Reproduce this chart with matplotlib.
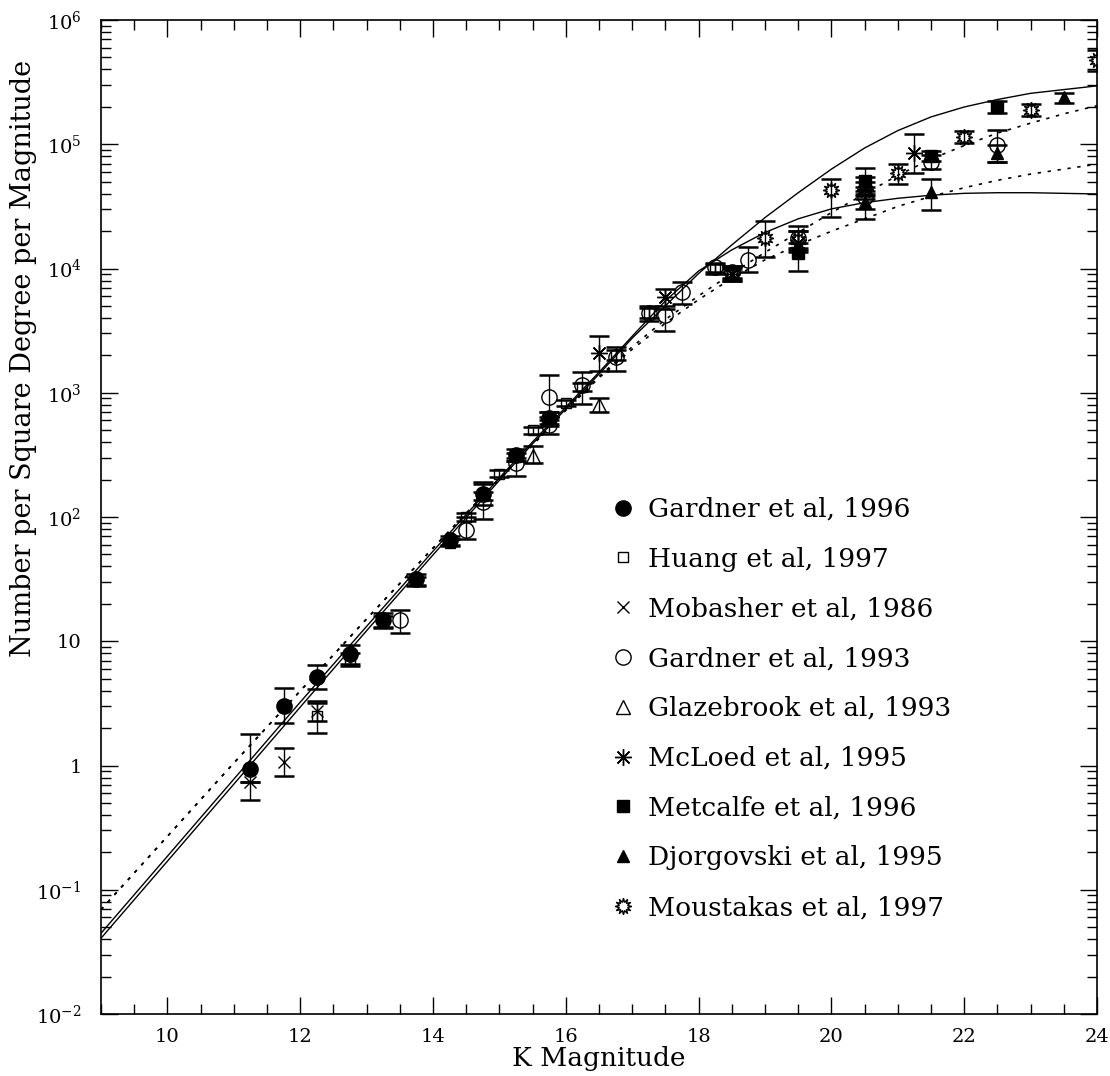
import numpy as np
import matplotlib
matplotlib.use("Agg")
import matplotlib.pyplot as plt
from matplotlib.lines import Line2D
from matplotlib.ticker import FixedLocator, LogLocator, MultipleLocator, NullFormatter

plt.rcParams['font.family'] = ['DejaVu Serif']
plt.rcParams['mathtext.fontset'] = 'dejavuserif'

# model curves (log10 N per deg^2 per mag), read every half magnitude
k_model = [9, 10, 11, 12, 13, 14, 15, 15.5, 16, 16.5, 17, 17.5, 18, 18.5,
           19, 19.5, 20, 20.5, 21, 21.5, 22, 22.5, 23, 23.5, 24]
logn_solid_a = [-1.39, -0.77, -0.15, 0.47, 1.085, 1.695, 2.295, 2.59, 2.87, 3.15,
                3.44, 3.70, 3.96, 4.19, 4.41, 4.61, 4.80, 4.97, 5.11, 5.22,
                5.30, 5.36, 5.41, 5.44, 5.47]
logn_solid_b = [-1.35, -0.73, -0.11, 0.51, 1.12, 1.725, 2.315, 2.605, 2.885, 3.165,
                3.455, 3.74, 3.98, 4.15, 4.29, 4.40, 4.48, 4.53, 4.565, 4.59,
                4.605, 4.61, 4.61, 4.605, 4.60]
logn_dot_a = [-1.16, -0.57, 0.02, 0.60, 1.18, 1.75, 2.31, 2.58, 2.86, 3.13,
              3.37, 3.59, 3.78, 3.96, 4.13, 4.29, 4.45, 4.60, 4.75, 4.88,
              4.99, 5.09, 5.17, 5.245, 5.31]
logn_dot_b = [-1.16, -0.57, 0.02, 0.60, 1.18, 1.75, 2.31, 2.58, 2.86, 3.12,
              3.35, 3.56, 3.75, 3.92, 4.07, 4.19, 4.30, 4.40, 4.50, 4.58,
              4.65, 4.71, 4.76, 4.80, 4.84]

# Gardner et al 1996
k_gar96 = [11.25, 11.75, 12.25, 12.75, 13.25, 13.75, 14.25, 14.75, 15.25, 15.75]
n_gar96 = [0.94, 3.0, 5.15, 7.9, 14.8, 31.8, 65, 153, 316, 630]
hi_gar96 = [1.8, 4.2, 6.5, 9.3, 17, 35, 70, 185, 350, 700]
lo_gar96 = [0.53, 2.2, 4.1, 6.6, 12.8, 28.5, 60, 125, 280, 560]

# Huang et al 1997
k_huang = [12.25, 12.75, 13.25, 13.75, 14.25, 14.5, 14.75, 15.0, 15.25, 15.5,
           15.75, 16.0, 16.25, 16.75, 17.25, 18.25, 18.5]
n_huang = [2.5, 7.1, 14.5, 30.5, 62, 100, 148, 222, 305, 500,
           590, 830, 1120, 2000, 4400, 1.0e4, 9.3e3]
hi_huang = [3.2, 8.0, 16, 33, 66, 108, 160, 238, 330, 535,
            640, 880, 1200, 2200, 4800, 1.08e4, 1.02e4]
lo_huang = [1.83, 6.3, 13, 28, 58, 93, 137, 208, 282, 468,
            545, 780, 1040, 1820, 4000, 9.3e3, 8.4e3]

# Mobasher et al 1986
k_mob = [11.25, 11.75, 12.25]
n_mob = [0.74, 1.07, 2.75]
hi_mob = [0.74, 1.38, 3.3]
lo_mob = [0.74, 0.82, 2.3]

# Gardner et al 1993
k_gar93 = [13.5, 14.5, 14.75, 15.25, 15.75, 15.75, 16.25, 16.75, 17.25, 17.5,
           17.75, 18.25, 18.5, 18.75, 19.5, 20.5, 21.5, 22.5]
n_gar93 = [14.8, 78, 132, 270, 550, 925, 1150, 1950, 4400, 4200,
           6450, 1.02e4, 9.3e3, 1.17e4, 1.76e4, 3.76e4, 7.2e4, 9.8e4]
hi_gar93 = [18, 100, 190, 300, 600, 1400, 1460, 2350, 5000, 4700,
            7800, 1.1e4, 1.05e4, 1.5e4, 2.2e4, 4.5e4, 8.2e4, 1.3e5]
lo_gar93 = [11.6, 67, 96, 214, 470, 700, 810, 1500, 3800, 3150,
            5200, 9.0e3, 8.2e3, 9.4e3, 1.4e4, 3.0e4, 6.3e4, 7.2e4]

# Glazebrook et al 1993
k_glaz = [15.5, 16.5]
n_glaz = [310, 800]
hi_glaz = [370, 900]
lo_glaz = [270, 700]

# McLeod et al 1995
k_mcl = [16.5, 17.5, 18.5, 19.5, 20.5, 21.25]
n_mcl = [2100, 5900, 9000, 1.6e4, 4.4e4, 8.5e4]
hi_mcl = [2870, 6800, 1.05e4, 2.0e4, 5.5e4, 1.2e5]
lo_mcl = [1510, 5000, 8000, 1.35e4, 3.6e4, 5.9e4]

# Metcalfe et al 1996
k_met = [19.5, 20.5, 21.5, 22.5]
n_met = [1.33e4, 5.1e4, 8.1e4, 2.0e5]
hi_met = [1.6e4, 6.4e4, 8.8e4, 2.25e5]
lo_met = [9.5e3, 4.2e4, 7.4e4, 1.8e5]

# Djorgovski et al 1995
k_djo = [20.5, 21.5, 22.5, 23.5]
n_djo = [3.4e4, 4.1e4, 8.5e4, 2.4e5]
hi_djo = [4.0e4, 5.3e4, 9.8e4, 2.6e5]
lo_djo = [2.5e4, 2.97e4, 7.2e4, 2.15e5]

# Moustakas et al 1997
k_mou = [18.5, 19.0, 19.5, 20.0, 20.5, 21.0, 22.0, 23.0, 24.0]
n_mou = [9.0e3, 1.76e4, 1.7e4, 4.3e4, 4.3e4, 5.9e4, 1.14e5, 1.9e5, 4.8e5]
hi_mou = [1.0e4, 2.4e4, 2.0e4, 5.3e4, 5.0e4, 7.0e4, 1.28e5, 2.1e5, 5.7e5]
lo_mou = [8.0e3, 1.24e4, 1.45e4, 2.6e4, 3.8e4, 4.8e4, 1.02e5, 1.7e5, 3.9e5]

ytick_vals = [1e-2, 1e-1, 1, 10, 1e2, 1e3, 1e4, 1e5, 1e6]
ytick_labels = [r'$10^{-2}$', r'$10^{-1}$', '1', '10', r'$10^{2}$', r'$10^{3}$',
                r'$10^{4}$', r'$10^{5}$', r'$10^{6}$']

burst = (12, 1, 0)
star = (8, 2, 0)
datasets = [
    (k_gar96, n_gar96, hi_gar96, lo_gar96, 'o', 'k', 11, 'Gardner et al, 1996'),
    (k_huang, n_huang, hi_huang, lo_huang, 's', 'none', 7, 'Huang et al, 1997'),
    (k_mob, n_mob, hi_mob, lo_mob, 'x', 'none', 9, 'Mobasher et al, 1986'),
    (k_gar93, n_gar93, hi_gar93, lo_gar93, 'o', 'none', 11, 'Gardner et al, 1993'),
    (k_glaz, n_glaz, hi_glaz, lo_glaz, '^', 'none', 10, 'Glazebrook et al, 1993'),
    (k_mcl, n_mcl, hi_mcl, lo_mcl, star, 'none', 12, 'McLoed et al, 1995'),
    (k_met, n_met, hi_met, lo_met, 's', 'k', 8, 'Metcalfe et al, 1996'),
    (k_djo, n_djo, hi_djo, lo_djo, '^', 'k', 9, 'Djorgovski et al, 1995'),
    (k_mou, n_mou, hi_mou, lo_mou, burst, 'none', 12, 'Moustakas et al, 1997'),
]

fig = plt.figure(figsize=(11.1, 10.76), dpi=100)
ax = fig.add_axes([0.091, 0.0576, 0.8973, 0.9238])

ax.plot(k_model, 10 ** np.array(logn_solid_a), color='k', lw=1.0)
ax.plot(k_model, 10 ** np.array(logn_solid_b), color='k', lw=1.0)
ax.plot(k_model, 10 ** np.array(logn_dot_a), color='k', lw=1.2, ls=(0, (2, 4)))
ax.plot(k_model, 10 ** np.array(logn_dot_b), color='k', lw=1.2, ls=(0, (2, 4)))

handles = []
for k, n, hi, lo, mk, fc, ms, lab in datasets:
    n = np.array(n)
    yerr = [n - np.array(lo), np.array(hi) - n]
    ax.errorbar(k, n, yerr=yerr, fmt='none', ecolor='k', elinewidth=1.0,
                capsize=7, capthick=1.8)
    ax.plot(k, n, ls='none', marker=mk, ms=ms, mfc=fc, mec='k', mew=1.0)
    handles.append(Line2D([], [], ls='none', marker=mk, ms=ms, mfc=fc,
                          mec='k', mew=1.0))

labels = [d[-1] for d in datasets]
leg = ax.legend(handles, labels, loc='upper left', bbox_to_anchor=(0.500, 0.531),
                frameon=False, fontsize=19, labelspacing=0.94,
                handletextpad=0.45, handlelength=1.0, borderaxespad=0)

ax.set_yscale('log')
ax.set_xlim(9, 24)
ax.set_ylim(1e-2, 1e6)
ax.xaxis.set_major_locator(MultipleLocator(2))
ax.xaxis.set_minor_locator(MultipleLocator(0.5))
ax.yaxis.set_major_locator(FixedLocator(ytick_vals))
ax.yaxis.set_minor_locator(LogLocator(base=10, subs=np.arange(2, 10)))
ax.yaxis.set_minor_formatter(NullFormatter())
ax.set_yticklabels(ytick_labels)
ax.tick_params(which='both', direction='in', top=True, right=True, width=1.0,
               labelsize=14)
ax.tick_params(which='major', length=12)
ax.tick_params(which='minor', length=7)
ax.tick_params(axis='x', pad=10)
ax.tick_params(axis='y', pad=14)
for s in ax.spines.values():
    s.set_linewidth(1.2)

ax.set_xlabel('K Magnitude', fontsize=19)
ax.xaxis.set_label_coords(0.5, -0.032)
ax.set_ylabel('Number per Square Degree per Magnitude', fontsize=19.5)
ax.yaxis.set_label_coords(-0.064, 0.66)

fig.savefig('out.png', dpi=100)
